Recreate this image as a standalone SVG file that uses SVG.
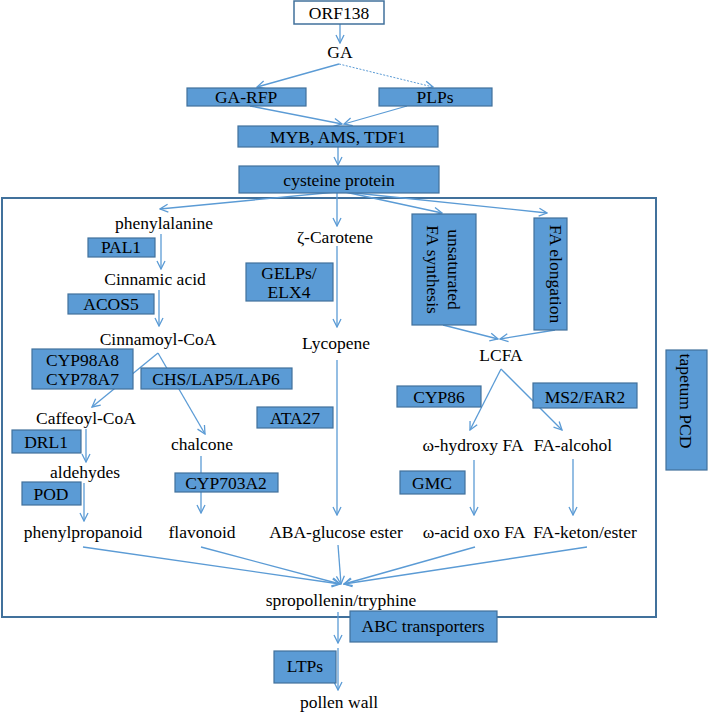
<svg xmlns="http://www.w3.org/2000/svg" width="708" height="715" viewBox="0 0 708 715" font-family="Liberation Serif, DejaVu Serif, serif" font-size="17.5">
<defs>
<marker id="ah" viewBox="0 0 10 10" refX="9" refY="5" markerWidth="10" markerHeight="10" markerUnits="userSpaceOnUse" orient="auto">
<path d="M1,1 L9,5 L1,9" fill="none" stroke="#5b9bd5" stroke-width="1.3"/>
</marker>
</defs>
<style>
text{font-family:'Liberation Serif','DejaVu Serif',serif;font-size:17.5px;fill:#000;text-anchor:middle}
.box{fill:#5b9bd5;stroke:#41719c;stroke-width:1.2}
.wbox{fill:#fff;stroke:#41719c;stroke-width:1.5}
.frame{fill:none;stroke:#41719c;stroke-width:2}
.c{fill:none;stroke:#5b9bd5;stroke-width:1.3;marker-end:url(#ah)}
.d{fill:none;stroke:#5b9bd5;stroke-width:1;stroke-dasharray:2 1.5;marker-end:url(#ah)}
</style>
<rect width="708" height="715" fill="#fff"/>
<rect id="frame" class="frame" x="2" y="198" width="654" height="419"/>
<g id="connectors">
<line class="c" x1="340" y1="24" x2="340" y2="43"/>
<line class="c" x1="339" y1="64" x2="257" y2="87"/>
<line class="d" x1="339" y1="64" x2="433" y2="87"/>
<line class="c" x1="250" y1="106" x2="342" y2="124"/>
<line class="c" x1="407" y1="106" x2="344" y2="124"/>
<line class="c" x1="338" y1="147" x2="338" y2="165"/>
<line class="c" x1="336" y1="192" x2="160" y2="209"/>
<line class="c" x1="337" y1="193" x2="337" y2="226"/>
<line class="c" x1="345" y1="192" x2="442" y2="213"/>
<line class="c" x1="345" y1="192" x2="547" y2="213"/>
<line class="c" x1="161" y1="234" x2="161" y2="269"/>
<line class="c" x1="159" y1="290" x2="159" y2="326"/>
<line class="c" x1="158" y1="353" x2="92" y2="407"/>
<line class="c" x1="158" y1="353" x2="205" y2="434"/>
<line class="c" x1="86" y1="429" x2="86" y2="462"/>
<line class="c" x1="84" y1="483" x2="84" y2="521"/>
<line class="c" x1="201" y1="456" x2="201" y2="513"/>
<line class="c" x1="337" y1="246" x2="337" y2="327"/>
<line class="c" x1="337" y1="360" x2="337" y2="515"/>
<line class="c" x1="443" y1="325" x2="498" y2="339"/>
<line class="c" x1="555" y1="330" x2="500" y2="339"/>
<line class="c" x1="501" y1="369" x2="470" y2="430"/>
<line class="c" x1="501" y1="369" x2="562" y2="430"/>
<line class="c" x1="474" y1="460" x2="474" y2="515"/>
<line class="c" x1="573" y1="459" x2="573" y2="515"/>
<line class="c" x1="83" y1="547" x2="340" y2="584"/>
<line class="c" x1="201" y1="547" x2="340" y2="584"/>
<line class="c" x1="338" y1="545" x2="341" y2="584"/>
<line class="c" x1="475" y1="547" x2="344" y2="584"/>
<line class="c" x1="587" y1="547" x2="344" y2="584"/>
<line class="c" x1="338" y1="612" x2="338" y2="643"/>
<line class="c" x1="338" y1="648" x2="338" y2="690"/>
</g>
<g id="ORF138"><rect class="wbox" x="294" y="1" width="90" height="23"/><text x="339" y="19">ORF138</text></g>
<g id="GA"><text x="340" y="58">GA</text></g>
<g id="GA-RFP"><rect class="box" x="187" y="88" width="119" height="18"/><text x="246" y="103">GA-RFP</text></g>
<g id="PLPs"><rect class="box" x="379" y="88" width="113" height="18"/><text x="435" y="103">PLPs</text></g>
<g id="MYB"><rect class="box" x="238" y="126" width="200" height="21"/><text x="338" y="143">MYB, AMS, TDF1</text></g>
<g id="cysteine"><rect class="box" x="239" y="166" width="200" height="27"/><text x="339" y="186">cysteine protein</text></g>
<g id="phenylalanine"><text x="164" y="229">phenylalanine</text></g>
<g id="PAL1"><rect class="box" x="88" y="238" width="67" height="19"/><text x="121" y="253">PAL1</text></g>
<g id="cinnamic"><text x="155" y="285">Cinnamic acid</text></g>
<g id="ACOS5"><rect class="box" x="68" y="294" width="86" height="20"/><text x="111" y="310">ACOS5</text></g>
<g id="cinnamoyl"><text x="158" y="345">Cinnamoyl-CoA</text></g>
<g id="CYP98A8"><rect class="box" x="32" y="349" width="101" height="40"/><text x="82.5" y="366">CYP98A8</text><text x="82.5" y="385">CYP78A7</text></g>
<g id="CHS"><rect class="box" x="141" y="368" width="151" height="21"/><text x="216" y="385">CHS/LAP5/LAP6</text></g>
<g id="caffeoyl"><text x="86" y="424">Caffeoyl-CoA</text></g>
<g id="DRL1"><rect class="box" x="12" y="430" width="69" height="23"/><text x="46" y="448">DRL1</text></g>
<g id="aldehydes"><text x="85" y="478">aldehydes</text></g>
<g id="POD"><rect class="box" x="22" y="482" width="59" height="23"/><text x="51" y="500">POD</text></g>
<g id="phenylpropanoid"><text x="83" y="538">phenylpropanoid</text></g>
<g id="chalcone"><text x="202" y="450">chalcone</text></g>
<g id="CYP703A2"><rect class="box" x="175" y="473" width="103" height="19"/><text x="226" y="489">CYP703A2</text></g>
<g id="flavonoid"><text x="202" y="538">flavonoid</text></g>
<g id="carotene"><text x="335" y="243">ζ-Carotene</text></g>
<g id="GELPs"><rect class="box" x="246" y="263" width="87" height="38"/><text x="289" y="279">GELPs/</text><text x="289" y="298">ELX4</text></g>
<g id="lycopene"><text x="336" y="349">Lycopene</text></g>
<g id="ATA27"><rect class="box" x="257" y="407" width="76" height="21"/><text x="295" y="424">ATA27</text></g>
<g id="ABA"><text x="336" y="538">ABA-glucose ester</text></g>
<g id="unsat"><rect class="box" x="412" y="214" width="64" height="111"/><text transform="translate(448,269.5) rotate(90)">unsaturated</text><text transform="translate(427,269.5) rotate(90)">FA synthesis</text></g>
<g id="FAelong"><rect class="box" x="534" y="218" width="33" height="112"/><text transform="translate(550,274) rotate(90)">FA elongation</text></g>
<g id="LCFA"><text x="501" y="361">LCFA</text></g>
<g id="CYP86"><rect class="box" x="397" y="386" width="84" height="21"/><text x="439" y="403">CYP86</text></g>
<g id="MS2"><rect class="box" x="533" y="383" width="104" height="25"/><text x="585" y="403">MS2/FAR2</text></g>
<g id="hydroxy"><text x="473" y="451">ω-hydroxy FA</text></g>
<g id="alcohol"><text x="573" y="451">FA-alcohol</text></g>
<g id="GMC"><rect class="box" x="400" y="471" width="65" height="23"/><text x="432" y="489">GMC</text></g>
<g id="oxo"><text x="474" y="538">ω-acid oxo FA</text></g>
<g id="keton"><text x="585" y="538">FA-keton/ester</text></g>
<g id="tapetum"><rect class="box" x="666" y="350" width="41" height="120"/><text transform="translate(680,401) rotate(90)">tapetum PCD</text></g>
<g id="spropollenin"><text x="341" y="606">spropollenin/tryphine</text></g>
<g id="ABC"><rect class="box" x="350" y="611" width="147" height="31"/><text x="423" y="632">ABC transporters</text></g>
<g id="LTPs"><rect class="box" x="274" y="651" width="62" height="32"/><text x="305" y="672">LTPs</text></g>
<g id="pollenwall"><text x="339" y="708">pollen wall</text></g>
</svg>
